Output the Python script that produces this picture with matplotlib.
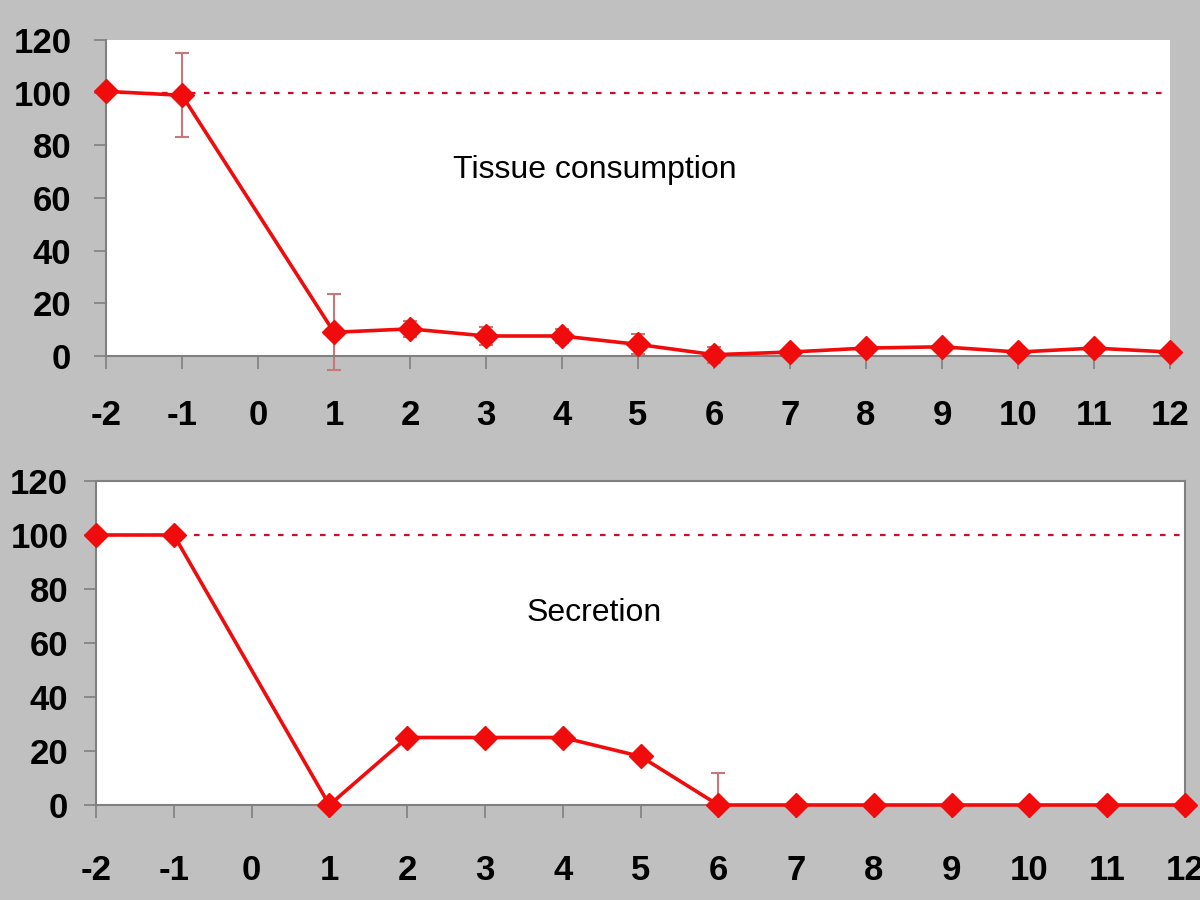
import numpy as np
import matplotlib
matplotlib.use("Agg")
import matplotlib.pyplot as plt

plt.rcParams['font.family'] = ['Liberation Sans', 'DejaVu Sans']

# tissue consumption (% of baseline)
x_tissue = [-2, -1, 1, 2, 3, 4, 5, 6, 7, 8, 9, 10, 11, 12]
y_tissue = [100.5, 99, 9, 10.3, 7.6, 7.6, 4.4, 0.5, 1.5, 3, 3.5, 1.5, 3, 1.5]
err_tissue = [0, 16, 14.5, 3, 3.6, 2.6, 3.8, 3, 0, 0, 0, 0, 0, 0]

# secretion (% of baseline)
x_secr = [-2, -1, 1, 2, 3, 4, 5, 6, 7, 8, 9, 10, 11, 12]
y_secr = [100, 100, 0, 25, 25, 25, 18, 0, 0, 0, 0, 0, 0, 0]
err_secr_up = [0, 0, 0, 0, 0, 0, 0, 12, 0, 0, 0, 0, 0, 0]

xticks = list(range(-2, 13))
yticks = [0, 20, 40, 60, 80, 100, 120]

bg = '#c0c0c0'
line_red = '#f00c0c'
err_col = '#c87878'
ref_col = '#c8102e'
spine_col = '#808080'

fig = plt.figure(figsize=(12, 9), dpi=100, facecolor=bg)
ax1 = fig.add_axes([106/1200, 1-356/900, 1064/1200, 316/900])
ax2 = fig.add_axes([96/1200, 1-805/900, 1089/1200, 324/900])


def style(ax, ypad, xpad, frame):
    ax.set_xlim(-2, 12)
    ax.set_ylim(0, 120)
    ax.set_xticks(xticks)
    ax.set_yticks(yticks)
    ax.set_xticklabels([str(t) for t in xticks])
    for s in ['top', 'right']:
        ax.spines[s].set_visible(frame)
    for s in ax.spines.values():
        s.set_color(spine_col)
        s.set_linewidth(1.5)
    ax.tick_params(axis='both', direction='out', color=spine_col, width=1.2,
                   labelsize=25)
    ax.tick_params(axis='y', length=9, pad=ypad)
    ax.tick_params(axis='x', length=9, pad=xpad)
    for lab in ax.get_xticklabels() + ax.get_yticklabels():
        lab.set_fontweight('bold')
    ax.axhline(100, color=ref_col, lw=1.6, ls=(0, (2.5, 3.8)), zorder=1)


style(ax1, 16, 22, False)
style(ax2, 11, 26, True)

ax1.errorbar(x_tissue, y_tissue, yerr=err_tissue, fmt='none', ecolor=err_col,
             elinewidth=1.5, capsize=5, capthick=1.5, zorder=2, clip_on=False)
ax1.plot(x_tissue, y_tissue, color=line_red, lw=2.6, marker='D', ms=12,
         zorder=3, clip_on=False)
ax1.text(4.43, 70.6, 'Tissue consumption', fontsize=23, ha='center', va='center')

ax2.errorbar(x_secr, y_secr, yerr=[np.zeros(len(x_secr)), err_secr_up],
             fmt='none', ecolor=err_col, elinewidth=1.5, capsize=5,
             capthick=1.5, zorder=2, clip_on=False)
ax2.plot(x_secr, y_secr, color=line_red, lw=2.6, marker='D', ms=12,
         zorder=3, clip_on=False)
ax2.text(4.41, 71, 'Secretion', fontsize=23, ha='center', va='center')

fig.savefig('out.png', dpi=100, facecolor=bg)
